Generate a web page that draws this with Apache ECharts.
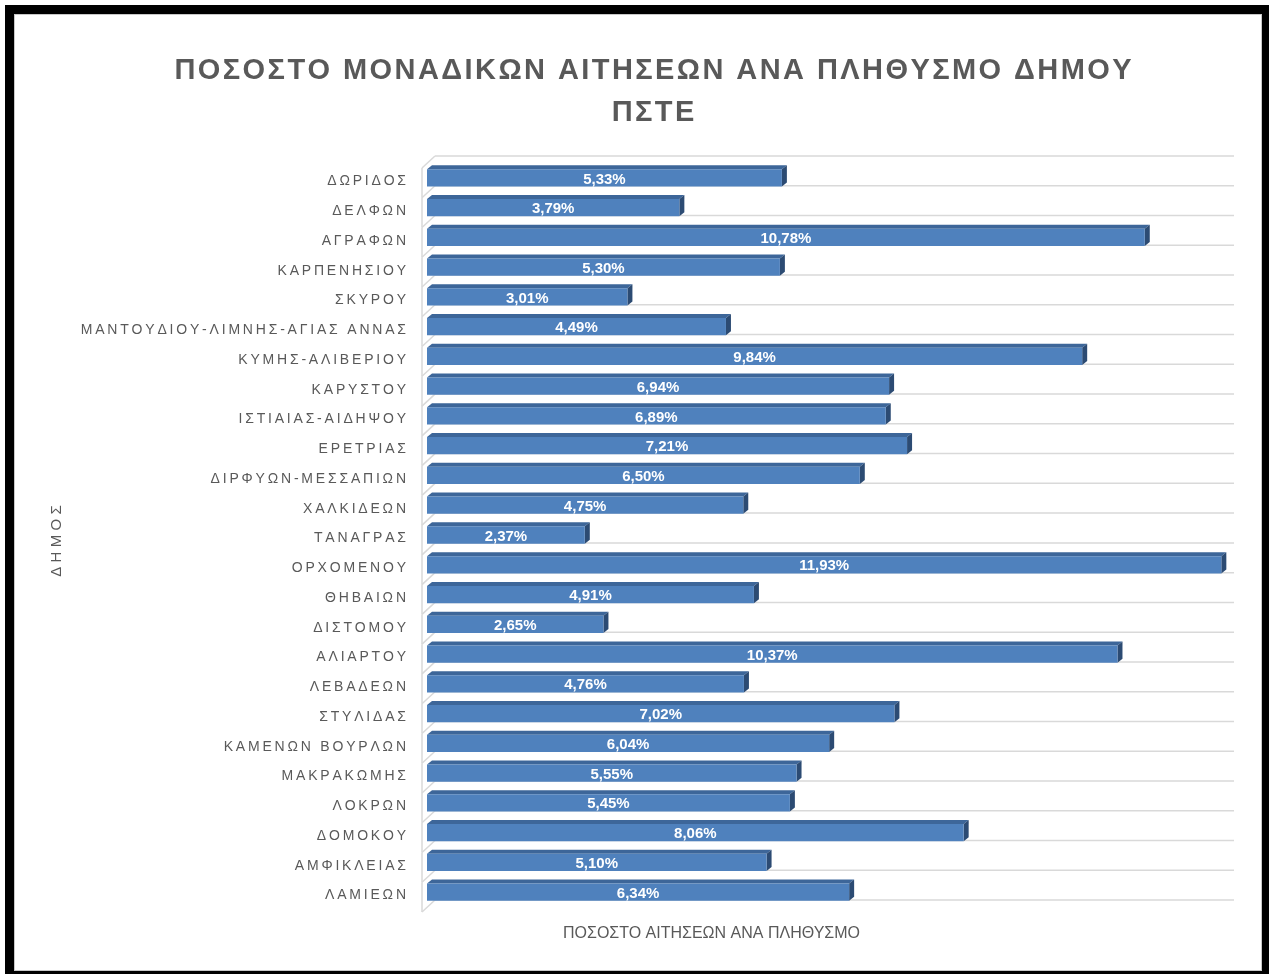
<!DOCTYPE html>
<html>
<head>
<meta charset="utf-8">
<script src="https://cdn.jsdelivr.net/npm/echarts@6/dist/echarts.min.js"></script>
<style>
    html, body { margin: 0; padding: 0; background: #fff; }
    #main { width: 1269px; height: 974px; }
    #frame {
        position: absolute; left: 5px; top: 5px; right: 0; bottom: 0;
        border-top: 9px solid #000; border-left: 9px solid #000;
        border-right: 7px solid #000; border-bottom: 3px solid #000;
        box-shadow: inset 1px 1px 0 #c8c8c8, inset -1px -1px 0 #c8c8c8;
        pointer-events: none;
    }
</style>
</head>
<body>
<div id="main"></div>
<div id="frame"></div>
<script>
// δήμοι, από πάνω προς τα κάτω
var categories = ['ΔΩΡΙΔΟΣ', 'ΔΕΛΦΩΝ', 'ΑΓΡΑΦΩΝ', 'ΚΑΡΠΕΝΗΣΙΟΥ', 'ΣΚΥΡΟΥ',
    'ΜΑΝΤΟΥΔΙΟΥ-ΛΙΜΝΗΣ-ΑΓΙΑΣ ΑΝΝΑΣ', 'ΚΥΜΗΣ-ΑΛΙΒΕΡΙΟΥ', 'ΚΑΡΥΣΤΟΥ', 'ΙΣΤΙΑΙΑΣ-ΑΙΔΗΨΟΥ',
    'ΕΡΕΤΡΙΑΣ', 'ΔΙΡΦΥΩΝ-ΜΕΣΣΑΠΙΩΝ', 'ΧΑΛΚΙΔΕΩΝ', 'ΤΑΝΑΓΡΑΣ', 'ΟΡΧΟΜΕΝΟΥ', 'ΘΗΒΑΙΩΝ',
    'ΔΙΣΤΟΜΟΥ', 'ΑΛΙΑΡΤΟΥ', 'ΛΕΒΑΔΕΩΝ', 'ΣΤΥΛΙΔΑΣ', 'ΚΑΜΕΝΩΝ ΒΟΥΡΛΩΝ', 'ΜΑΚΡΑΚΩΜΗΣ',
    'ΛΟΚΡΩΝ', 'ΔΟΜΟΚΟΥ', 'ΑΜΦΙΚΛΕΙΑΣ', 'ΛΑΜΙΕΩΝ'];
// ποσοστό (%)
var values = [5.33, 3.79, 10.78, 5.30, 3.01, 4.49, 9.84, 6.94, 6.89, 7.21, 6.50, 4.75, 2.37,
    11.93, 4.91, 2.65, 10.37, 4.76, 7.02, 6.04, 5.55, 5.45, 8.06, 5.10, 6.34];

var titleText = 'ΠΟΣΟΣΤΟ ΜΟΝΑΔΙΚΩΝ ΑΙΤΗΣΕΩΝ ΑΝΑ ΠΛΗΘΥΣΜΟ ΔΗΜΟΥ\nΠΣΤΕ';
var xName = 'ΠΟΣΟΣΤΟ ΑΙΤΗΣΕΩΝ ΑΝΑ ΠΛΗΘΥΣΜΟ';
var yName = 'ΔΗΜΟΣ';
var xMax = 12;

// αραιά γράμματα όπως στο excel
function spaced(s, sp) {
    return s.split('\n').map(function (line) {
        return line.split('').join(sp || '\u2009');
    }).join('\n');
}

function fmt(v) {
    return v.toFixed(2).replace('.', ',') + '%';
}

var BACK = [8, -7];   // βάθος πίσω τοίχου
var FRONT = [-5, 5];  // μπροστά άκρη δαπέδου
var DEPTH = [5, -4];  // βάθος μπάρας
var GRID_COLOR = '#d9d9d9';

var myChart = echarts.init(document.getElementById('main'));

var option = {
    animation: false,
    title: {
        text: spaced(titleText, '\u200a'),
        left: 648,
        top: 45,
        textAlign: 'center',
        textStyle: {
            fontFamily: 'Liberation Sans',
            fontSize: 29,
            fontWeight: 'bold',
            color: '#595959',
            lineHeight: 42
        }
    },
    grid: [
        { left: 427, top: 163, width: 799, height: 744 },
        // μόνο για τις ετικέτες των δήμων
        { left: 427, top: 166.5, width: 799, height: 744 }
    ],
    xAxis: [
        { type: 'value', gridIndex: 0, min: 0, max: xMax, show: false },
        { type: 'value', gridIndex: 1, min: 0, max: xMax, show: false }
    ],
    yAxis: [
        {
            type: 'category',
            gridIndex: 0,
            inverse: true,
            data: categories,
            axisLine: { show: false },
            axisTick: { show: false },
            splitLine: { show: false },
            axisLabel: { show: false }
        },
        {
            type: 'category',
            gridIndex: 1,
            inverse: true,
            data: categories,
            axisLine: { show: false },
            axisTick: { show: false },
            splitLine: { show: false },
            axisLabel: {
                margin: 21,
                fontFamily: 'Liberation Sans',
                fontSize: 14,
                color: '#595959',
                formatter: function (v) { return spaced(v); }
            }
        }
    ],
    graphic: [
        {
            type: 'text',
            left: 563,
            top: 926,
            style: {
                text: xName,
                fontFamily: 'Liberation Sans',
                fontSize: 16,
                fill: '#595959'
            }
        },
        {
            type: 'text',
            x: 57,
            y: 541,
            rotation: Math.PI / 2,
            style: {
                text: spaced(yName, '\u2009\u200a'),
                fontFamily: 'Liberation Sans',
                fontSize: 15,
                fill: '#595959',
                align: 'center',
                verticalAlign: 'middle'
            }
        }
    ],
    series: [
        {
            // τοίχοι και γραμμές πλέγματος
            name: 'frame',
            type: 'custom',
            z: 1,
            silent: true,
            encode: { x: 0, y: 1 },
            data: categories.map(function (c, i) { return [0, i]; }),
            renderItem: function (params, api) {
                var i = api.value(1);
                var p0 = api.coord([0, i]);
                var pe = api.coord([xMax, i]);
                var band = api.size([0, 1])[1];
                var ys = [p0[1] - band / 2];
                if (i === categories.length - 1) ys.push(p0[1] + band / 2);
                var children = [];
                var ls = { stroke: GRID_COLOR, lineWidth: 1.5 };
                ys.forEach(function (y) {
                    children.push({
                        type: 'line',
                        shape: { x1: p0[0] + BACK[0], y1: y + BACK[1], x2: pe[0] + BACK[0], y2: y + BACK[1] },
                        style: ls
                    });
                    children.push({
                        type: 'line',
                        shape: { x1: p0[0] + FRONT[0], y1: y + FRONT[1], x2: p0[0] + BACK[0], y2: y + BACK[1] },
                        style: ls
                    });
                });
                children.push({
                    type: 'line',
                    shape: {
                        x1: p0[0] + FRONT[0], y1: p0[1] - band / 2 + FRONT[1],
                        x2: p0[0] + FRONT[0], y2: p0[1] + band / 2 + FRONT[1]
                    },
                    style: ls
                });
                return { type: 'group', children: children };
            }
        },
        {
            name: 'ΠΟΣΟΣΤΟ',
            type: 'custom',
            z: 2,
            encode: { x: 0, y: 1 },
            data: values.map(function (v, i) { return [v, i]; }),
            renderItem: function (params, api) {
                var v = api.value(0);
                var i = api.value(1);
                var p0 = api.coord([0, i]);
                var p1 = api.coord([v, i]);
                var band = api.size([0, 1])[1];
                var h = band * 0.58;
                var x0 = p0[0], x1 = p1[0];
                var yt = p0[1] - h / 2, yb = p0[1] + h / 2;
                var dx = DEPTH[0], dy = DEPTH[1];
                return {
                    type: 'group',
                    children: [
                        {
                            type: 'polygon',
                            shape: { points: [[x0, yt], [x1, yt], [x1 + dx, yt + dy], [x0 + dx, yt + dy]] },
                            style: { fill: '#3d6699' }
                        },
                        {
                            type: 'polygon',
                            shape: { points: [[x1, yt], [x1 + dx, yt + dy], [x1 + dx, yb + dy], [x1, yb]] },
                            style: { fill: '#2c4b73' }
                        },
                        {
                            type: 'rect',
                            shape: { x: x0, y: yt, width: x1 - x0, height: h },
                            style: { fill: '#4f81bd' }
                        },
                        {
                            type: 'text',
                            x: (x0 + x1) / 2,
                            y: p0[1] + 1.5,
                            style: {
                                text: fmt(v),
                                fill: '#fff',
                                fontFamily: 'Liberation Sans',
                                fontSize: 15,
                                fontWeight: 'bold',
                                align: 'center',
                                verticalAlign: 'middle'
                            }
                        }
                    ]
                };
            }
        }
    ]
};

myChart.setOption(option);
</script>
</body>
</html>
